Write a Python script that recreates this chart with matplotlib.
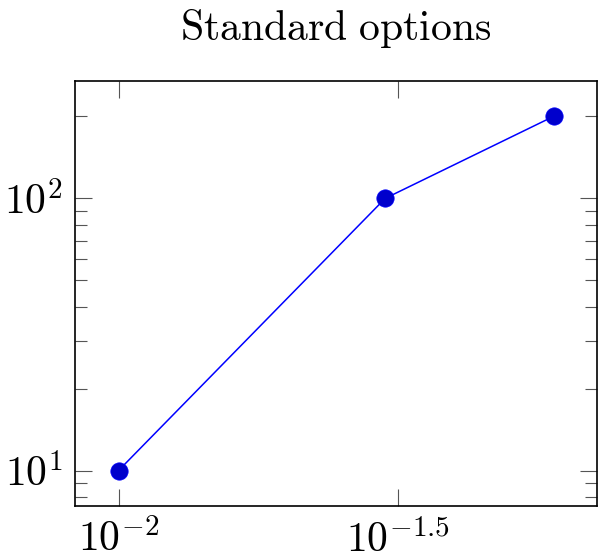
import numpy as np
import matplotlib.pyplot as plt
from matplotlib.ticker import FixedLocator, FixedFormatter, LogLocator, NullLocator, NullFormatter

plt.rcParams['mathtext.fontset'] = 'cm'

# data
x_vals = [0.01, 0.03, 0.06]
y_vals = [10, 100, 200]
x_ticks = [10**-2, 10**-1.5]
x_labels = [r'$10^{-2}$', r'$10^{-1.5}$']
y_ticks = [10, 100]
y_labels = [r'$10^{1}$', r'$10^{2}$']
title = r'$\mathrm{Standard\ options}$'

fig = plt.figure(figsize=(6.03, 5.59), dpi=100)
ax = fig.add_axes([75/603, 1 - 506/559, 522/603, 425/559])

ax.plot(x_vals, y_vals, color='#0000ff', lw=1.1, marker='o', ms=12.5,
        mfc='#0000cc', mec='#0000ff', mew=0.5)
ax.set_xscale('log')
ax.set_yscale('log')

# pgfplots-like enlarged limits (10% of log range)
lx = np.log10(x_vals)
ly = np.log10(y_vals)
dx = 0.1 * (lx.max() - lx.min())
dy = 0.1 * (ly.max() - ly.min())
ax.set_xlim(10**(lx.min() - dx), 10**(lx.max() + dx))
ax.set_ylim(10**(ly.min() - dy), 10**(ly.max() + dy))

ax.xaxis.set_major_locator(FixedLocator(x_ticks))
ax.xaxis.set_major_formatter(FixedFormatter(x_labels))
ax.xaxis.set_minor_locator(NullLocator())
ax.xaxis.set_minor_formatter(NullFormatter())
ax.yaxis.set_major_locator(FixedLocator(y_ticks))
ax.yaxis.set_major_formatter(FixedFormatter(y_labels))
ax.yaxis.set_minor_locator(LogLocator(base=10, subs=np.arange(2, 10)))
ax.yaxis.set_minor_formatter(NullFormatter())

ax.tick_params(which='both', direction='in', top=True, right=True,
               color='#555555', width=0.8, labelsize=30)
ax.tick_params(which='major', length=12.5, pad=9)
ax.tick_params(which='minor', length=8.5)
for s in ax.spines.values():
    s.set_linewidth(1.2)

fig.text(336/603, 1 - 40/559, title, fontsize=30, ha='center', va='baseline')

fig.savefig('out.png', dpi=100)
